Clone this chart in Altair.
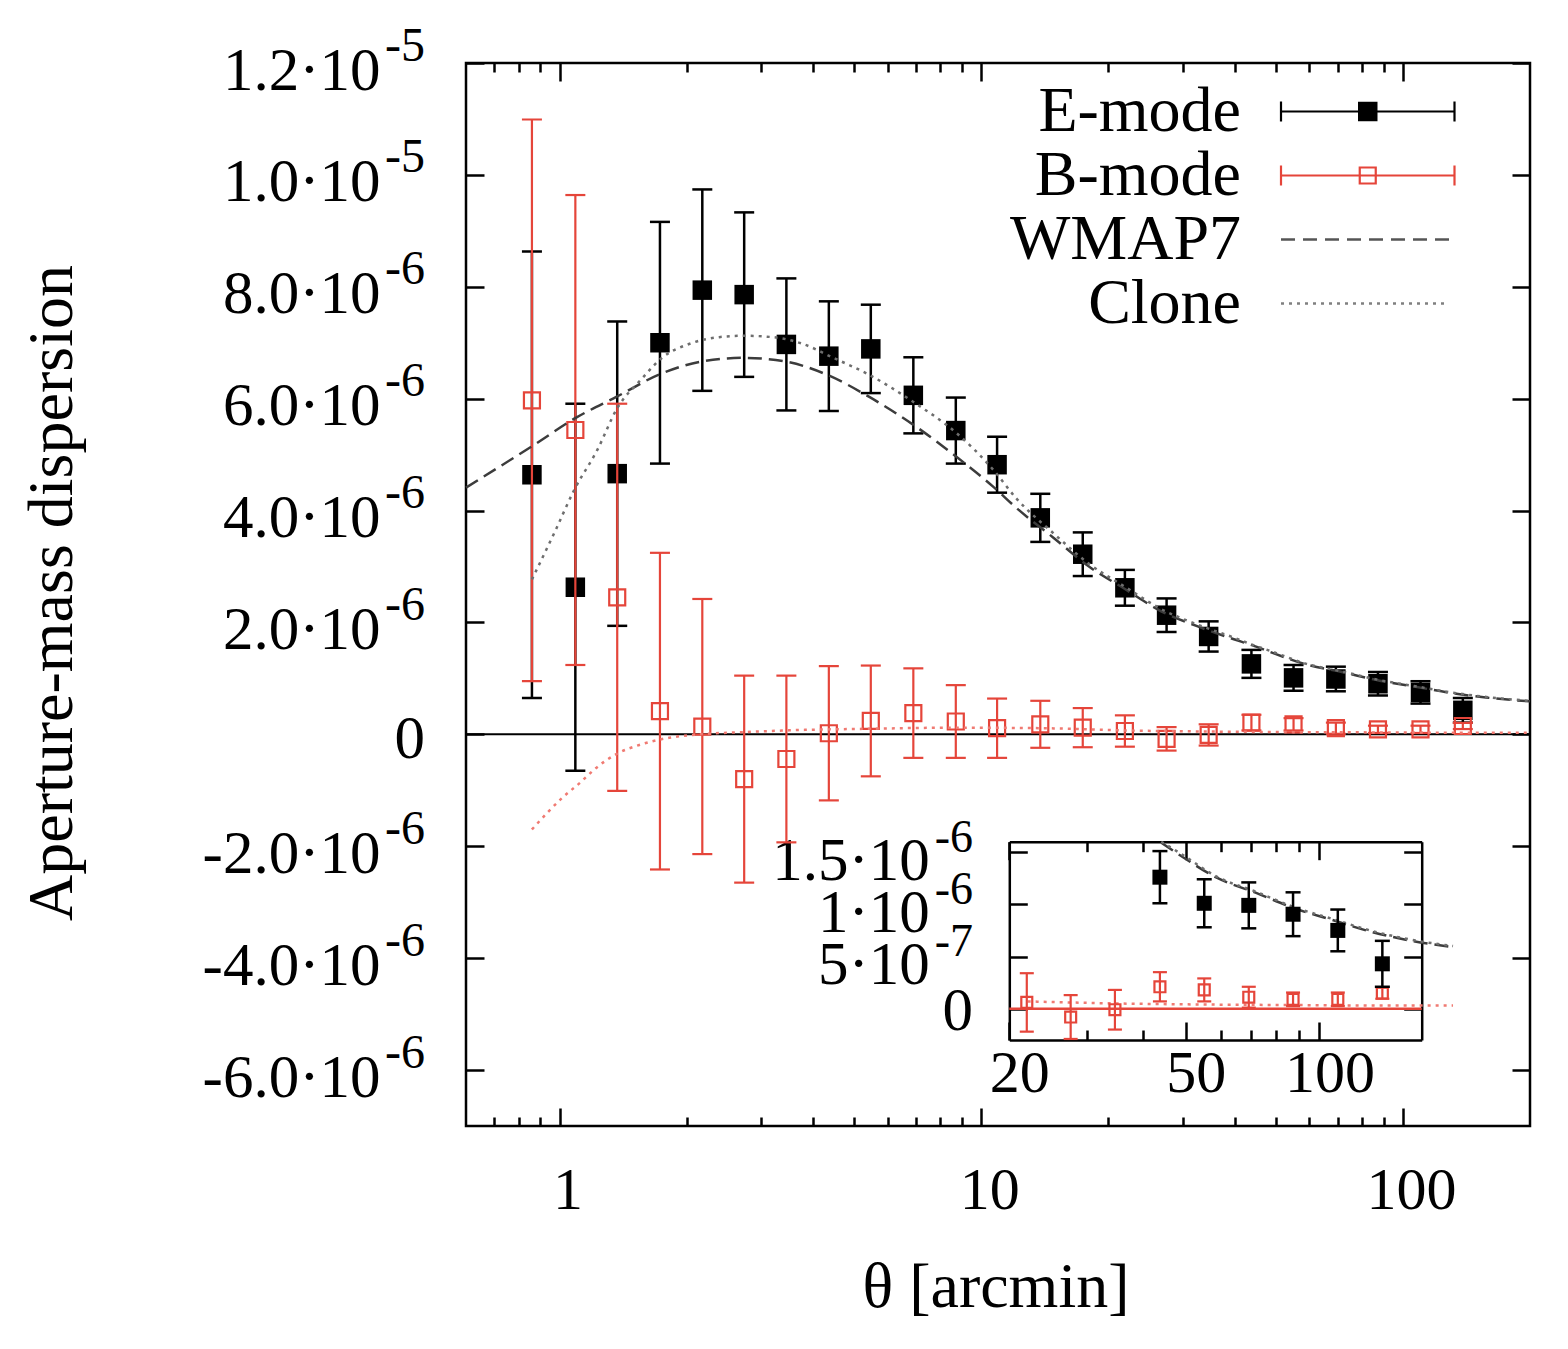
import json
import altair as alt
import pandas as pd

# ---------------- data (y in units of 1e-6) ----------------
theta = [0.86, 1.09, 1.37, 1.73, 2.18, 2.74, 3.45, 4.35, 5.47, 6.9, 8.7, 10.9,
         13.8, 17.4, 21.9, 27.5, 34.6, 43.7, 55.0, 69.3, 87.2, 110.0, 138.6]
e_mode = [4.64, 2.63, 4.66, 7.00, 7.94, 7.86, 6.97, 6.76, 6.89, 6.06, 5.43, 4.82,
          3.87, 3.22, 2.62, 2.13, 1.75, 1.26, 1.01, 0.99, 0.905, 0.75, 0.43]
e_err = [3.99, 3.28, 2.72, 2.16, 1.80, 1.47, 1.18, 0.98, 0.79, 0.68, 0.59, 0.50,
         0.43, 0.39, 0.32, 0.30, 0.27, 0.25, 0.23, 0.22, 0.21, 0.20, 0.22]
b_mode = [5.97, 5.44, 2.45, 0.415, 0.14, -0.80, -0.44, 0.02, 0.24, 0.38, 0.23, 0.11,
          0.18, 0.12, 0.06, -0.08, -0.01, 0.21, 0.18, 0.11, 0.09, 0.09, 0.15]
b_err = [5.02, 4.20, 3.46, 2.83, 2.28, 1.85, 1.49, 1.20, 0.99, 0.80, 0.65, 0.53,
         0.42, 0.35, 0.28, 0.21, 0.19, 0.14, 0.11, 0.10, 0.065, 0.065, 0.055]

wm_theta = [0.6, 0.86, 1.1, 1.37, 1.72, 2.19, 2.73, 3.4, 4.3, 5.4, 7.0, 8.7, 10.7,
            12.1, 14.8, 18.0, 22.0, 26.7, 32.6, 39.7, 44.0, 48.5, 59.0, 72.0, 88.0,
            107.0, 130.0, 159.0, 200.0]
wm_vals = [4.41, 5.15, 5.67, 6.04, 6.43, 6.67, 6.73, 6.67, 6.43, 6.04, 5.50, 4.97, 4.42,
           4.05, 3.52, 3.00, 2.59, 2.20, 1.93, 1.70, 1.59, 1.47, 1.25, 1.11, 0.96,
           0.85, 0.74, 0.655, 0.59]

cl_theta = [0.86, 0.98, 1.08, 1.23, 1.37, 1.56, 1.75, 2.05, 2.39, 2.73, 3.2, 3.74,
            4.46, 5.41, 6.97, 8.72, 10.7, 12.1, 14.8, 18.0, 22.0, 26.7, 32.6, 39.7,
            44.0, 48.5, 59.0, 72.0, 88.0, 107.0, 130.0, 159.0, 200.0]
cl_vals = [2.77, 3.66, 4.35, 5.09, 5.83, 6.34, 6.73, 6.99, 7.10, 7.125, 7.10, 6.99,
           6.73, 6.43, 5.92, 5.39, 4.72, 4.22, 3.60, 3.05, 2.63, 2.24, 1.96, 1.73,
           1.60, 1.49, 1.26, 1.12, 0.97, 0.86, 0.75, 0.665, 0.60]

rb_theta = [0.86, 1.016, 1.12, 1.21, 1.36, 1.56, 1.82, 2.13, 2.74, 3.67, 5.4, 8.8,
            14.0, 22.0, 35.0, 55.0, 87.0, 138.0, 200.0]
rb_vals = [-1.70, -1.13, -0.86, -0.625, -0.357, -0.18, -0.06, 0.0, 0.04, 0.077, 0.10,
           0.12, 0.11, 0.07, 0.05, 0.04, 0.035, 0.03, 0.03]

# tick values and labels
x_major = [1, 10, 100]
x_major_labels = ["1", "10", "100"]
x_minor = [0.7, 0.8, 0.9, 2, 3, 4, 5, 6, 7, 8, 9, 20, 30, 40, 50, 60, 70, 80, 90]
y_ticks = [-6, -4, -2, 0, 2, 4, 6, 8, 10, 12]
y_base = ["-6.0·10", "-4.0·10", "-2.0·10", "0", "2.0·10", "4.0·10", "6.0·10",
          "8.0·10", "1.0·10", "1.2·10"]
y_exp = ["-6", "-6", "-6", "", "-6", "-6", "-6", "-6", "-5", "-5"]

ix_major = [20, 50, 100]
ix_major_labels = ["20", "50", "100"]
ix_minor = [30, 40, 60, 70, 80, 90]
iy_ticks = [0, 0.5, 1.0, 1.5]
iy_base = ["0", "5·10", "1·10", "1.5·10"]
iy_exp = ["", "-7", "-6", "-6"]

legend_labels = ["E-mode", "B-mode", "WMAP7", "Clone"]

# ---------------- layout / style ----------------
W, H = 1064, 1063
SERIF = "Liberation Serif"
RED = "#e5453a"
BLACK = "#000000"
DASH_COL = "#3c3c3c"
DOT_COL = "#6e6e6e"
RDOT_COL = "#f07a72"

IX0, IX1 = 543.3, 955.7   # inset x range (pixels inside plot)
IY0, IY1 = 977.0, 778.7   # inset y range (bottom, top)

xs = alt.Scale(type="log", domain=[0.6, 200], nice=False)
ys = alt.Scale(domain=[-7, 12], nice=False, zero=False)
xi = alt.Scale(type="log", domain=[20, 170], nice=False, range=[IX0, IX1])
yi = alt.Scale(domain=[-0.3, 1.6], nice=False, zero=False, range=[IY0, IY1])

pts = pd.DataFrame({"theta": theta, "e": e_mode, "de": e_err, "b": b_mode, "db": b_err})
wm = pd.DataFrame({"theta": wm_theta, "v": wm_vals})
cl = pd.DataFrame({"theta": cl_theta, "v": cl_vals})
rb = pd.DataFrame({"theta": rb_theta, "v": rb_vals})
leg = pd.DataFrame({"label": legend_labels})


def lookup_expr(values, texts):
    return "%s[indexof(%s, datum.value)]" % (
        json.dumps(texts, ensure_ascii=False), json.dumps(values))


def ax(**kw):
    base = dict(grid=False, domain=False, ticks=False, labels=False, title=None,
                tickSize=0)
    base.update(kw)
    return alt.Axis(**base)


def tick_axis(orient, offset, values, size, domain=False):
    return ax(orient=orient, offset=offset, values=values, ticks=True, tickSize=size,
              tickWidth=2.5, tickColor=BLACK, domain=domain, domainColor=BLACK,
              domainWidth=2.5)


def label_axis(orient, offset, values, texts, size, pad, loff, **kw):
    return ax(orient=orient, offset=offset, values=values, labels=True,
              labelExpr=lookup_expr(values, texts), labelFont=SERIF,
              labelFontSize=size, labelColor=BLACK, labelPadding=pad,
              labelOffset=loff, labelFlush=False, labelOverlap=False,
              labelLimit=600, **kw)


def carrier(xsc, ysc, axx, axy):
    return alt.Chart(pts).mark_point(opacity=0, size=1).encode(
        x=alt.X("theta:Q", scale=xsc, axis=axx),
        y=alt.Y("e:Q", scale=ysc, axis=axy))


def errbars(xsc, ysc, vcol, ecol, color, cap, lw, flt):
    base = alt.Chart(pts).transform_filter(flt).transform_calculate(
        lo=f"datum.{vcol} - datum.{ecol}", hi=f"datum.{vcol} + datum.{ecol}")
    X = alt.X("theta:Q", scale=xsc, axis=None)
    bar = base.mark_rule(color=color, strokeWidth=lw).encode(
        x=X, y=alt.Y("lo:Q", scale=ysc, axis=None), y2="hi:Q")
    lo = base.mark_tick(orient="horizontal", size=cap, thickness=lw, color=color,
                        opacity=1).encode(x=X, y=alt.Y("lo:Q", scale=ysc, axis=None))
    hi = base.mark_tick(orient="horizontal", size=cap, thickness=lw, color=color,
                        opacity=1).encode(x=X, y=alt.Y("hi:Q", scale=ysc, axis=None))
    return [bar, lo, hi]


def points(xsc, ysc, vcol, flt, filled, color, size, sw):
    return alt.Chart(pts).transform_filter(flt).mark_point(
        shape="square", filled=filled, size=size, color=color, opacity=1,
        strokeWidth=sw).encode(
        x=alt.X("theta:Q", scale=xsc, axis=None),
        y=alt.Y(f"{vcol}:Q", scale=ysc, axis=None))


def curve(df, xsc, ysc, color, dash, flt):
    return alt.Chart(df).transform_filter(flt).mark_line(
        color=color, strokeDash=dash, strokeWidth=2.5, interpolate="monotone").encode(
        x=alt.X("theta:Q", scale=xsc, axis=None),
        y=alt.Y("v:Q", scale=ysc, axis=None))


nz_y = [v for v in y_ticks if v != 0]
nz_base = [b for v, b in zip(y_ticks, y_base) if v != 0]
nz_exp = [e for v, e in zip(y_ticks, y_exp) if v != 0]
z_base = [b for v, b in zip(y_ticks, y_base) if v == 0]

# ---------------- main panel ----------------
main_layers = [
    carrier(xs, ys,
            label_axis("bottom", 0, x_major, x_major_labels, 60, 35, 8,
                       title="θ [arcmin]", titleFont=SERIF, titleFontSize=64,
                       titleFontWeight="normal", titleColor=BLACK, titleX=529.5,
                       titleY=180, titleBaseline="alphabetic", titleAlign="center"),
            label_axis("left", 0, nz_y, nz_base, 61, 86, 8,
                       title="Aperture-mass dispersion", titleFont=SERIF,
                       titleFontSize=64, titleFontWeight="normal", titleColor=BLACK,
                       titleAngle=270, titleX=-394.5, titleY=529.5,
                       titleBaseline="alphabetic", titleAlign="center")),
    carrier(xs, ys, tick_axis("top", -H, x_major, 18),
            label_axis("left", 0, nz_y, nz_exp, 48, 41.5, -17)),
    carrier(xs, ys, tick_axis("top", -H, x_minor, 9),
            label_axis("left", 0, [0], z_base, 61, 41.5, 5)),
    carrier(xs, ys, tick_axis("bottom", -H, x_major, 18),
            tick_axis("right", -W, y_ticks, 18)),
    carrier(xs, ys, tick_axis("bottom", -H, x_minor, 9),
            tick_axis("left", -W, y_ticks, 18)),
    alt.Chart(leg).transform_filter(alt.datum.label == "E-mode").mark_rule(
        color=BLACK, strokeWidth=2).encode(y=alt.Y(datum=0, scale=ys, axis=None)),
]

all_rows = "datum.theta > 0"
main_layers += errbars(xs, ys, "e", "de", BLACK, 20, 2.5, all_rows)
main_layers += [points(xs, ys, "e", all_rows, True, BLACK, 380, 0)]
main_layers += errbars(xs, ys, "b", "db", RED, 20, 2.2, all_rows)
main_layers += [points(xs, ys, "b", all_rows, False, RED, 256, 2.2)]
main_layers += [
    curve(wm, xs, ys, DASH_COL, [14, 7], all_rows),
    curve(cl, xs, ys, DOT_COL, [3, 5], all_rows),
    curve(rb, xs, ys, RDOT_COL, [3, 5], all_rows),
]

# legend (inside the main panel, top right)
LX_TEXT, LX0, LX1 = 775, 815, 988.5
LXM = (LX0 + LX1) / 2
LY0, LDY = 48.5, 64


def one(lab):
    return alt.Chart(leg).transform_filter(alt.datum.label == lab)


for i, lab in enumerate(legend_labels):
    yy = LY0 + LDY * i
    main_layers.append(one(lab).mark_text(
        align="right", baseline="middle", font=SERIF, fontSize=64, color=BLACK).encode(
        text="label:N", x=alt.value(LX_TEXT), y=alt.value(yy)))
    if lab in ("E-mode", "B-mode"):
        col = BLACK if lab == "E-mode" else RED
        main_layers.append(one(lab).mark_rule(color=col, strokeWidth=2.2).encode(
            x=alt.value(LX0), x2=alt.value(LX1), y=alt.value(yy)))
        for xx in (LX0, LX1):
            main_layers.append(one(lab).mark_rule(color=col, strokeWidth=2.2).encode(
                x=alt.value(xx), y=alt.value(yy - 10), y2=alt.value(yy + 10)))
        if lab == "E-mode":
            main_layers.append(one(lab).mark_point(
                shape="square", filled=True, size=380, color=BLACK, opacity=1).encode(
                x=alt.value(LXM), y=alt.value(yy)))
        else:
            main_layers.append(one(lab).mark_point(
                shape="square", filled=False, size=256, color=RED, opacity=1,
                strokeWidth=2.2).encode(x=alt.value(LXM), y=alt.value(yy)))
    elif lab == "WMAP7":
        main_layers.append(one(lab).mark_rule(
            color="#555555", strokeWidth=2.5, strokeDash=[14, 8]).encode(
            x=alt.value(LX0), x2=alt.value(LX1), y=alt.value(yy)))
    else:
        main_layers.append(one(lab).mark_rule(
            color="#808080", strokeWidth=2.5, strokeDash=[3, 5]).encode(
            x=alt.value(LX0), x2=alt.value(LX1 - 8), y=alt.value(yy)))

main = alt.layer(*main_layers).resolve_axis(x="independent", y="independent")

# ---------------- inset panel ----------------
nz_iy = [v for v in iy_ticks if v != 0]
nz_ibase = [b for v, b in zip(iy_ticks, iy_base) if v != 0]
nz_iexp = [e for v, e in zip(iy_ticks, iy_exp) if v != 0]
z_ibase = [b for v, b in zip(iy_ticks, iy_base) if v == 0]

inset_layers = [
    carrier(xi, yi, label_axis("bottom", -(H - IY0), ix_major, ix_major_labels, 60, 4, 10),
            label_axis("left", -IX0, nz_iy, nz_ibase, 61, 80, 9)),
    carrier(xi, yi, tick_axis("top", -IY0, ix_major, 18, domain=True),
            label_axis("left", -IX0, nz_iy, nz_iexp, 46, 36.8, -15)),
    carrier(xi, yi, tick_axis("top", -IY0, ix_minor, 10),
            label_axis("left", -IX0, [0], z_ibase, 61, 36.8, 3)),
    carrier(xi, yi, tick_axis("bottom", -(H - IY1), ix_major, 18, domain=True),
            tick_axis("right", -(W - IX0), iy_ticks, 18, domain=True)),
    carrier(xi, yi, tick_axis("bottom", -(H - IY1), ix_minor, 10),
            tick_axis("left", -IX1, iy_ticks, 18, domain=True)),
    alt.Chart(leg).transform_filter(alt.datum.label == "E-mode").mark_rule(
        color=RED, strokeWidth=2.5).encode(
        x=alt.X(datum=20, scale=xi, axis=None), x2=alt.X2(datum=170),
        y=alt.Y(datum=0, scale=yi, axis=None)),
]
in_curve = "datum.theta >= 20 && datum.v <= 1.6"
inset_layers += [
    curve(rb, xi, yi, RDOT_COL, [3, 5], in_curve),
    curve(wm, xi, yi, DASH_COL, [14, 7], in_curve),
    curve(cl, xi, yi, DOT_COL, [3, 5], in_curve),
]
inset_layers += errbars(xi, yi, "b", "db", RED, 14, 2.2, "datum.theta > 20")
inset_layers += [points(xi, yi, "b", "datum.theta > 20", False, RED, 120, 2.2)]
inset_layers += errbars(xi, yi, "e", "de", BLACK, 15, 2.5, "datum.theta > 40")
inset_layers += [points(xi, yi, "e", "datum.theta > 40", True, BLACK, 225, 0)]

inset = alt.layer(*inset_layers).resolve_axis(x="independent", y="independent")

chart = alt.layer(main, inset).resolve_scale(
    x="independent", y="independent").properties(
    width=W, height=H,
    autosize=alt.AutoSizeParams(type="none"),
    padding={"left": 458, "top": 55, "right": 28, "bottom": 215},
    background="white",
).configure_view(stroke=BLACK, strokeWidth=2.5)

chart.save("out.html", embed_options={"renderer": "svg", "actions": False})
